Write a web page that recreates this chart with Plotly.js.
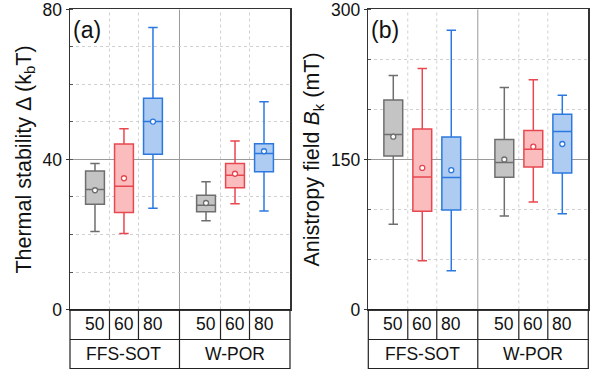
<!DOCTYPE html>
<html><head><meta charset="utf-8">
<script src="https://cdn.plot.ly/plotly-3.0.1.min.js"></script>
<style>html,body{margin:0;padding:0;background:#fff}#chart{width:600px;height:372px}</style>
</head><body><div id="chart"></div>
<script>
// categories
const groups = ['FFS-SOT', 'W-POR'];
const sizes = ['50', '60', '80'];
// order of boxes: FFS-SOT 50,60,80, W-POR 50,60,80
// panel (a): thermal stability (kbT)
const aLower  = [20.8, 20.3, 27.0, 23.7, 28.2, 26.3];
const aQ1     = [28.1, 25.9, 41.4, 26.1, 32.5, 36.7];
const aMedian = [32.0, 32.9, 50.1, 27.8, 35.8, 41.6];
const aQ3     = [36.9, 44.1, 56.3, 30.5, 38.9, 44.2];
const aUpper  = [38.9, 48.2, 75.2, 34.1, 44.9, 55.4];
const aMean   = [31.8, 35.0, 50.1, 28.4, 36.2, 42.2];
// panel (b): anisotropy field Bk (mT)
const bLower  = [85.3, 48.8, 38.8, 93.5, 107.5, 95.8];
const bQ1     = [153.5, 98.2, 99.5, 132.3, 142.6, 136.6];
const bMedian = [175.0, 132.6, 132.0, 147.0, 160.2, 178.0];
const bQ3     = [209.6, 180.4, 172.4, 170.0, 179.0, 195.3];
const bUpper  = [234.0, 241.0, 279.3, 222.0, 229.8, 214.2];
const bMean   = [172.8, 141.6, 139.3, 150.0, 162.8, 165.5];
// tick labels
const aTicks = [0, 40, 80];
const bTicks = [0, 150, 300];

const fills = ['#c4c4c4', '#fbbcbe', '#aecbf2'];
const lines = ['#6e6e6e', '#e8474f', '#2b79e0'];
const FONT = 'Arial, "Liberation Sans", sans-serif';

// slot positions along the x axis (layout only)
const GAP = 3.83;
const pos = [];
groups.forEach((g, gi) => sizes.forEach((s, si) => pos.push(1 + si + gi * GAP)));
const XR = [0.138, 7.727];
const divs = [(pos[0]+pos[1])/2, (pos[1]+pos[2])/2, (pos[3]+pos[4])/2, (pos[4]+pos[5])/2];
const sep = (pos[2]+pos[3])/2;
const groupCenters = [(pos[0]+pos[2])/2, (pos[3]+pos[5])/2];

const traces = [];
const panels = [
  {xa:'x', ya:'y', L:aLower, Q1:aQ1, M:aMedian, Q3:aQ3, U:aUpper, MN:aMean},
  {xa:'x2', ya:'y2', L:bLower, Q1:bQ1, M:bMedian, Q3:bQ3, U:bUpper, MN:bMean}
];
panels.forEach(p => {
  sizes.forEach((s, si) => {
    const idx = [si, 3 + si];
    traces.push({
      type: 'box', xaxis: p.xa, yaxis: p.ya,
      x: idx.map(i => pos[i]),
      lowerfence: idx.map(i => p.L[i]), q1: idx.map(i => p.Q1[i]),
      median: idx.map(i => p.M[i]), q3: idx.map(i => p.Q3[i]),
      upperfence: idx.map(i => p.U[i]),
      width: 0.65, whiskerwidth: 0.5, boxpoints: false,
      fillcolor: fills[si], line: {color: lines[si], width: 1.5},
      showlegend: false, hoverinfo: 'skip'
    });
    traces.push({
      type: 'scatter', mode: 'markers', xaxis: p.xa, yaxis: p.ya,
      x: idx.map(i => pos[i]), y: idx.map(i => p.MN[i]),
      marker: {symbol: 'circle', size: 5, color: '#ffffff', line: {color: lines[si], width: 1.3}},
      showlegend: false, hoverinfo: 'skip'
    });
  });
});

const YD = [0.168, 0.9745];
const ROW1 = 0.0874, ROW2 = 0.0094;
function xax(dom, anchor) {
  return {domain: dom, anchor: anchor, range: XR, showline: true, mirror: true, linecolor: '#333', linewidth: 1.5,
    showticklabels: false, ticks: '', showgrid: false, zeroline: false, fixedrange: true};
}
function yax(anchor, rng, major, minorStep, title) {
  return {domain: YD, anchor: anchor, range: rng, showline: true, mirror: true, linecolor: '#333', linewidth: 1.5,
    tickmode: 'array', tickvals: major, ticks: 'outside', ticklen: 3, tickcolor: '#333',
    ticklabeloverflow: 'allow',
    tickfont: {family: FONT, size: 17.5, color: '#111'},
    showgrid: true, gridcolor: '#9a9a9a', gridwidth: 1, zeroline: false,
    minor: {dtick: minorStep, ticks: 'inside', ticklen: 3, tickcolor: '#555', showgrid: true, gridcolor: '#d0d0d0', griddash: 'dot', gridwidth: 1},
    title: {text: title, font: {family: FONT, size: 21.5, color: '#111'}, standoff: 5}};
}

const shapes = [];
const annotations = [];
[['x', 'y'], ['x2', 'y2']].forEach(([xa, ya]) => {
  divs.forEach(d => {
    shapes.push({type:'line', xref:xa, yref:ya+' domain', x0:d, x1:d, y0:0, y1:1, layer:'below', line:{color:'#d0d0d0', width:1, dash:'dot'}});
    shapes.push({type:'line', xref:xa, yref:'paper', x0:d, x1:d, y0:ROW1, y1:YD[0], line:{color:'#222', width:1.2}});
  });
  shapes.push({type:'line', xref:xa, yref:ya+' domain', x0:sep, x1:sep, y0:0, y1:1, layer:'below', line:{color:'#9a9a9a', width:1}});
  shapes.push({type:'line', xref:xa, yref:'paper', x0:sep, x1:sep, y0:ROW2, y1:YD[0], line:{color:'#222', width:1.2}});
  shapes.push({type:'rect', xref:xa+' domain', yref:'paper', x0:0, x1:1, y0:ROW2, y1:YD[0], line:{color:'#222', width:1.2}});
  shapes.push({type:'line', xref:xa+' domain', yref:'paper', x0:0, x1:1, y0:ROW1, y1:ROW1, line:{color:'#222', width:1.2}});
  pos.forEach((p, i) => annotations.push({xref:xa, yref:'paper', x:p, y:(ROW1+YD[0])/2, text:sizes[i%3], showarrow:false,
    font:{family:FONT, size:17.5, color:'#111'}, xanchor:'center', yanchor:'middle'}));
  groups.forEach((g, gi) => annotations.push({xref:xa, yref:'paper', x:groupCenters[gi], y:(ROW1+ROW2)/2, text:g, showarrow:false,
    font:{family:FONT, size:17.5, color:'#111'}, xanchor:'center', yanchor:'middle'}));
});
annotations.push({xref:'x domain', yref:'y domain', x:0.005, y:0.98, text:'(a)', showarrow:false, xanchor:'left', yanchor:'top', font:{family:FONT, size:23, color:'#111'}});
annotations.push({xref:'x2 domain', yref:'y2 domain', x:0.005, y:0.98, text:'(b)', showarrow:false, xanchor:'left', yanchor:'top', font:{family:FONT, size:23, color:'#111'}});

const layout = {
  width: 600, height: 372, margin: {l:0, r:0, t:0, b:0},
  paper_bgcolor: '#fff', plot_bgcolor: '#fff', showlegend: false, boxmode: 'overlay',
  xaxis: xax([70/600, 290/600], 'y'),
  yaxis: yax('x', [0, 80], aTicks, 10, 'Thermal stability Δ (k<sub>b</sub>T)'),
  xaxis2: xax([368.3/600, 588.3/600], 'y2'),
  yaxis2: yax('x2', [0, 300], bTicks, 50, 'Anistropy field <i>B</i><sub>k</sub> (mT)'),
  shapes: shapes, annotations: annotations
};
Plotly.newPlot('chart', traces, layout, {displayModeBar: false, staticPlot: true});
</script></body></html>
